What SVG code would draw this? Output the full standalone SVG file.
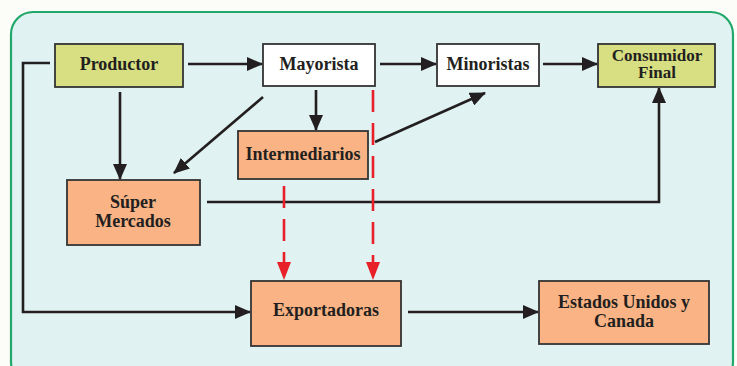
<svg xmlns="http://www.w3.org/2000/svg" width="737" height="366" viewBox="0 0 737 366">
<defs>
<style>
.node rect{stroke:#333;stroke-width:1.8}
.g{fill:#d7df82}.w{fill:#fff}.o{fill:#f9b384}
text{font-family:"Liberation Serif","Times New Roman",serif;font-weight:bold;font-size:18px;fill:#231f20;text-anchor:middle}
.c{fill:none;stroke:#231f20;stroke-width:2.6}
.r{fill:none;stroke:#e8202a;stroke-width:2.6;stroke-dasharray:22 11}
</style>
<marker id="ah" markerWidth="16" markerHeight="14" refX="15" refY="7" orient="auto" markerUnits="userSpaceOnUse"><path d="M0,0 L16,7 L0,14 Z" fill="#231f20"/></marker>
</defs>
<rect width="737" height="366" fill="#fcfcf8"/>
<rect x="11" y="12" width="722" height="372" rx="22" fill="#e0f2f2" stroke="#22a86a" stroke-width="2.2"/>
<g id="connectors">
<path class="c" d="M188,64 H262" marker-end="url(#ah)"/>
<path class="c" d="M380,64 H436" marker-end="url(#ah)"/>
<path class="c" d="M543,64 H597" marker-end="url(#ah)"/>
<path class="c" d="M50,63 H23 V312 H250" marker-end="url(#ah)"/>
<path class="c" d="M120,92 V179" marker-end="url(#ah)"/>
<path class="c" d="M263,97 L174,173" marker-end="url(#ah)"/>
<path class="c" d="M316,90 V130" marker-end="url(#ah)"/>
<path class="c" d="M375,142 L485,93" marker-end="url(#ah)"/>
<path class="c" d="M207,202 H659 V88" marker-end="url(#ah)"/>
<path class="c" d="M408,312 H538" marker-end="url(#ah)"/>
<path class="r" d="M284,186 V262"/>
<path d="M277,262 L291,262 L284,280 Z" fill="#e8202a"/>
<path class="r" d="M373,90 V262"/>
<path d="M366,262 L380,262 L373,280 Z" fill="#e8202a"/>
</g>
<g id="productor" class="node"><rect class="g" x="55" y="44" width="128" height="43"/><text x="119" y="70">Productor</text></g>
<g id="mayorista" class="node"><rect class="w" x="263" y="44" width="112" height="42"/><text x="319" y="70">Mayorista</text></g>
<g id="minoristas" class="node"><rect class="w" x="437" y="44" width="102" height="42"/><text x="488" y="70">Minoristas</text></g>
<g id="consumidor" class="node"><rect class="g" x="598" y="44" width="117" height="43"/><text x="657" y="61" style="font-size:17px">Consumidor</text><text x="657" y="78" style="font-size:17px">Final</text></g>
<g id="intermediarios" class="node"><rect class="o" x="238" y="131" width="130" height="48"/><text x="303" y="160">Intermediarios</text></g>
<g id="super" class="node"><rect class="o" x="67" y="180" width="133" height="65"/><text x="133" y="208">Súper</text><text x="133" y="227">Mercados</text></g>
<g id="exportadoras" class="node"><rect class="o" x="251" y="281" width="150" height="65"/><text x="326" y="316">Exportadoras</text></g>
<g id="estados" class="node"><rect class="o" x="539" y="281" width="170" height="63"/><text x="624" y="308">Estados Unidos y</text><text x="624" y="327">Canada</text></g>
</svg>
